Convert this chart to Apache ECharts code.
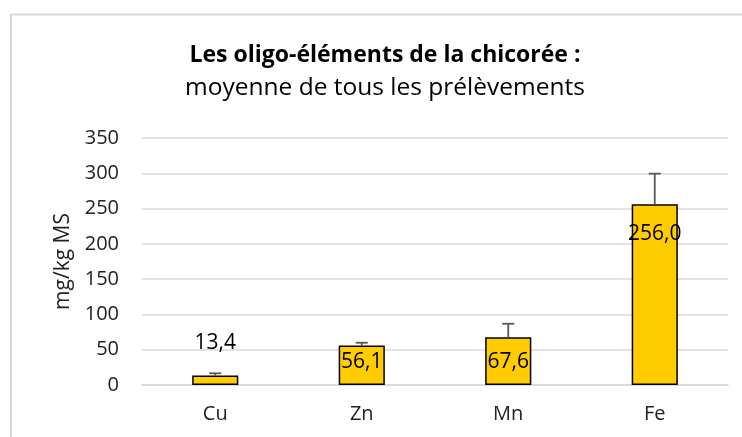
<!DOCTYPE html>
<html>
<head>
<meta charset="utf-8">
<script src="https://cdn.jsdelivr.net/npm/echarts@6/dist/echarts.min.js"></script>
<style>
	html, body { margin: 0; padding: 0; background: #fff; }
	#main { width: 742px; height: 437px; }
</style>
</head>
<body>
<div id="main"></div>
<script>
var categories = ['Cu', 'Zn', 'Mn', 'Fe'];
var moyennes = [13.4, 56.1, 67.6, 256.0];
var ecarts = [3.2, 3.8, 19.2, 43.5];
var labelTexts = ['13,4', '56,1', '67,6', '256,0'];

// placement des étiquettes (style seulement)
var labelPos = ['top', 'insideTop', 'insideTop', 'insideTop'];
var labelShift = [-17, 1.5, 9.5, 14.5];

var font = 'Open Sans';
var chart = echarts.init(document.getElementById('main'));

var barData = moyennes.map(function (v, i) {
	return {
		value: v,
		label: {
			position: labelPos[i],
			offset: [0, labelShift[i]],
			formatter: labelTexts[i]
		}
	};
});

var option = {
	animation: false,
	textStyle: { fontFamily: font },
	graphic: [{
		type: 'rect',
		shape: { x: 11, y: 14.5, width: 800, height: 500 },
		style: { fill: 'none', stroke: '#d9d9d9', lineWidth: 2 },
		z: -10
	}],
	title: {
		text: 'Les oligo-éléments de la chicorée :',
		subtext: 'moyenne de tous les prélèvements',
		left: 380,
		top: 39,
		textAlign: 'center',
		itemGap: 9,
		textStyle: { fontFamily: font, fontSize: 23, fontWeight: 'bold', color: '#000' },
		subtextStyle: { fontFamily: font, fontSize: 24.5, color: '#000' }
	},
	grid: { left: 142, right: 14, top: 138, bottom: 52 },
	xAxis: {
		type: 'category',
		data: categories,
		axisLine: { lineStyle: { color: '#d9d9d9', width: 1.5 } },
		axisTick: { show: false },
		axisLabel: { color: '#222', fontSize: 20, margin: 19, fontFamily: font }
	},
	yAxis: {
		type: 'value',
		min: 0,
		max: 350,
		interval: 50,
		name: 'mg/kg MS',
		nameLocation: 'middle',
		nameGap: 66,
		nameTextStyle: { color: '#222', fontSize: 21, fontFamily: font },
		axisLine: { show: false },
		axisTick: { show: false },
		axisLabel: { color: '#222', fontSize: 20, margin: 23, fontFamily: font },
		splitLine: { lineStyle: { color: '#d9d9d9', width: 1.5 } }
	},
	series: [{
		type: 'bar',
		data: barData,
		barWidth: '31.5%',
		itemStyle: { color: '#ffcc00', borderColor: '#000', borderWidth: 1.5 },
		label: { show: true, color: '#000', fontSize: 21, fontFamily: font },
		z: 2
	}, {
		type: 'custom',
		data: moyennes.map(function (v, i) { return [i, v, v + ecarts[i]]; }),
		renderItem: function (params, api) {
			var base = api.coord([api.value(0), api.value(1)]);
			var top = api.coord([api.value(0), api.value(2)]);
			var hw = 6;
			var st = { stroke: '#595959', lineWidth: 1.8 };
			return {
				type: 'group',
				children: [
					{ type: 'line', shape: { x1: base[0], y1: base[1], x2: top[0], y2: top[1] }, style: st },
					{ type: 'line', shape: { x1: top[0] - hw, y1: top[1], x2: top[0] + hw, y2: top[1] }, style: st }
				]
			};
		},
		z: 3
	}]
};

chart.setOption(option);
</script>
</body>
</html>
